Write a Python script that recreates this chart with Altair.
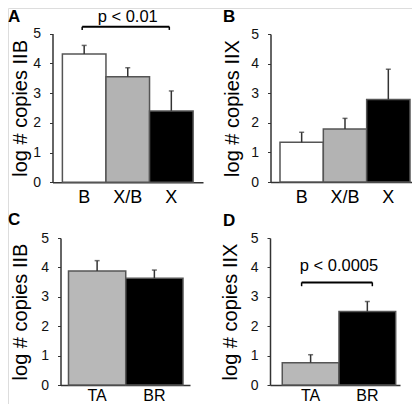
import altair as alt
import pandas as pd

# ---------------- data ----------------
a_groups = ["B", "X/B", "X"]
a_means = [4.31, 3.55, 2.40]
a_errs = [0.29, 0.30, 0.67]

b_groups = ["B", "X/B", "X"]
b_means = [1.34, 1.79, 2.79]
b_errs = [0.34, 0.36, 1.02]

c_groups = ["TA", "BR"]
c_means = [3.88, 3.63]
c_errs = [0.35, 0.28]

d_groups = ["TA", "BR"]
d_means = [0.76, 2.50]
d_errs = [0.27, 0.34]

y_titles = ["log # copies IIB", "log # copies IIX", "log # copies IIB", "log # copies IIX"]
panel_letters = ["A", "B", "C", "D"]
y_ticks = [0, 0.5, 1, 1.5, 2, 2.5, 3, 3.5, 4, 4.5, 5]

# significance annotations: (from, to, bracket level, leg level, text level, label)
a_note = ("B", "X", 5.23, 5.12, 5.39, "p < 0.01")
d_note = ("TA", "BR", 3.49, 3.36, 3.87, "p < 0.0005")

fill_colors = {"B": "#ffffff", "X/B": "#b3b3b3", "X": "#000000",
               "TA": "#b8b8b8", "BR": "#000000"}

# ---------------- layout (pixels in the chart area) ----------------
W, H = 404, 396
layouts = [
    dict(x=[44.5, 195.0], y=[174.3, 25.5], po=0.227, align=0.5, letter=(0, 1),
         note_off=(-2, -2), xlab_pad=20.5, xlab_size=18, title_pad=2),
    dict(x=[262.5, 409.3], y=[174.0, 26.0], po=0.194, align=0.565, letter=(215, 1),
         xlab_pad=20.5, xlab_size=18, title_pad=8),
    dict(x=[52.5, 182.0], y=[377.0, 230.0], po=0.131, align=0.533, letter=(0, 204),
         xlab_pad=15, xlab_size=16, title_pad=10),
    dict(x=[262.0, 392.0], y=[377.0, 230.0], po=0.146, align=0.74, letter=(215, 205),
         note_off=(-9, 5), xlab_pad=15, xlab_size=16, title_pad=9.5),
]

FONT = "Liberation Sans"


def panel(groups, means, errs, ytitle, letter, lay, note=None):
    df = pd.DataFrame({
        "g": groups,
        "m": means,
        "hi": [m + e for m, e in zip(means, errs)],
        "fill": [fill_colors[g] for g in groups],
    })
    xs = alt.Scale(domain=groups, range=lay["x"], paddingInner=0,
                   paddingOuter=lay["po"], align=lay["align"])
    ys = alt.Scale(domain=[0, 5], range=lay["y"], nice=False, zero=False)

    x_axis = alt.Axis(orient="bottom", offset=lay["y"][0] - H, title=None,
                      ticks=False, labelAngle=0, labelFontSize=lay["xlab_size"],
                      labelColor="#000", labelPadding=lay["xlab_pad"],
                      labelBaseline="alphabetic", labelFont=FONT,
                      domainColor="#333", domainWidth=1.5, grid=False)
    y_axis = alt.Axis(orient="left", offset=-lay["x"][0], values=y_ticks,
                      labelExpr="datum.value % 1 === 0 ? format(datum.value, 'd') : ''",
                      tickSize=3, tickColor="#333", tickWidth=1,
                      domainColor="#333", domainWidth=1.5, grid=False,
                      labelFontSize=14, labelColor="#111", labelPadding=9,
                      labelFont=FONT, title=ytitle, titleFontSize=20,
                      titleFontWeight="normal", titleColor="#000",
                      titleFont=FONT, titlePadding=lay["title_pad"])

    bars = alt.Chart(df).mark_bar(stroke="#555", strokeWidth=1.5).encode(
        x=alt.X("g:N", scale=xs, sort=groups, axis=x_axis),
        y=alt.Y("m:Q", scale=ys, axis=y_axis),
        fill=alt.Fill("fill:N", scale=None),
    )
    whisk = alt.Chart(df).mark_rule(color="#333", strokeWidth=1.5).encode(
        x=alt.X("g:N", scale=xs, sort=groups),
        y=alt.Y("m:Q", scale=ys),
        y2="hi:Q",
    )
    cap = alt.Chart(df).mark_tick(color="#333", size=5, thickness=1.5).encode(
        x=alt.X("g:N", scale=xs, sort=groups),
        y=alt.Y("hi:Q", scale=ys),
    )
    ldf = pd.DataFrame({"t": [letter]})
    let = alt.Chart(ldf).mark_text(fontSize=17, fontWeight="bold", font=FONT,
                                   align="left", baseline="top", color="#000").encode(
        text="t:N", x=alt.value(lay["letter"][0]), y=alt.value(lay["letter"][1]))
    layers = [bars, whisk, cap, let]

    if note is not None:
        g0, g1, lvl, leg, tlvl, label = note
        o0, o1 = lay["note_off"]
        ndf = pd.DataFrame({"a": [g0], "b": [g1], "lvl": [lvl], "leg": [leg],
                            "tl": [tlvl], "label": [label]})
        top = alt.Chart(ndf).mark_rule(color="#000", strokeWidth=2,
                                       xOffset=o0, x2Offset=o1).encode(
            x=alt.X("a:N", scale=xs, sort=groups), x2="b:N",
            y=alt.Y("lvl:Q", scale=ys))
        leg0 = alt.Chart(ndf).mark_rule(color="#000", strokeWidth=1.5,
                                        xOffset=o0).encode(
            x=alt.X("a:N", scale=xs, sort=groups), y=alt.Y("lvl:Q", scale=ys),
            y2="leg:Q")
        leg1 = alt.Chart(ndf).mark_rule(color="#000", strokeWidth=1.5,
                                        xOffset=o1).encode(
            x=alt.X("b:N", scale=xs, sort=groups), y=alt.Y("lvl:Q", scale=ys),
            y2="leg:Q")
        i0, i1 = groups.index(g0), groups.index(g1)
        mid = alt.Chart(ndf).mark_text(fontSize=16.5, font=FONT, color="#000",
                                       align="center", baseline="alphabetic").encode(
            x=alt.XDatum(groups[(i0 + i1) // 2], type="nominal", scale=xs,
                         bandPosition=0.5 if (i0 + i1) % 2 == 0 else 1.0),
            y=alt.Y("tl:Q", scale=ys), text="label:N")
        layers += [top, leg0, leg1, mid]
    return alt.layer(*layers)


pA = panel(a_groups, a_means, a_errs, y_titles[0], panel_letters[0], layouts[0], a_note)
pB = panel(b_groups, b_means, b_errs, y_titles[1], panel_letters[1], layouts[1])
pC = panel(c_groups, c_means, c_errs, y_titles[2], panel_letters[2], layouts[2])
pD = panel(d_groups, d_means, d_errs, y_titles[3], panel_letters[3], layouts[3], d_note)

chart = alt.layer(pA, pB, pC, pD).resolve_scale(
    x="independent", y="independent"
).properties(
    width=W, height=H, padding=0,
    autosize=alt.AutoSizeParams(type="none"),
).configure_view(stroke=None).configure(font=FONT, background="#ffffff")

chart.save("out.html", embed_options={"renderer": "svg", "actions": False})
